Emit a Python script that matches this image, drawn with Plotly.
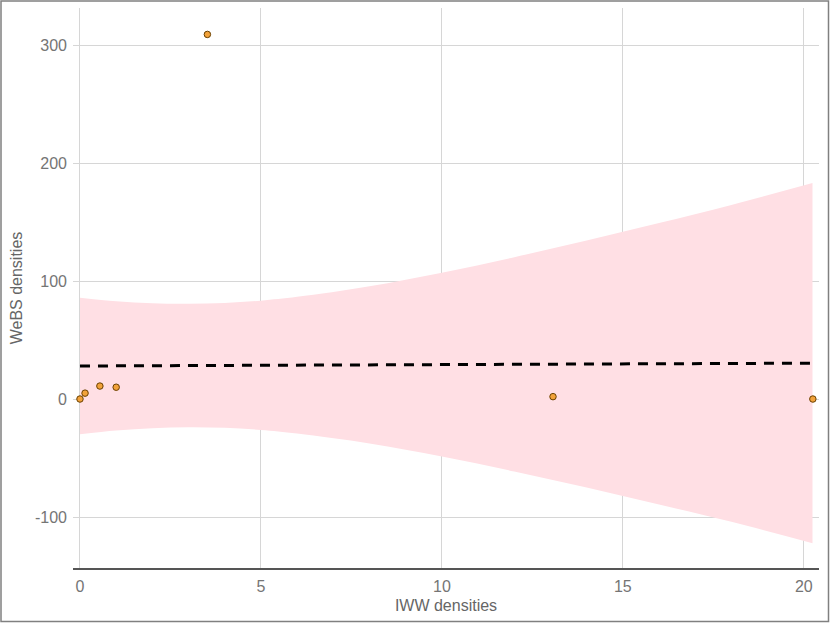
import plotly.graph_objects as go

# Observed points
iww = [0.0, 0.14, 0.55, 1.0, 3.52, 13.07, 20.25]
webs = [0.0, 5.0, 11.0, 10.0, 309.0, 2.0, 0.0]

# Fitted line and confidence band
band_x = [0, 1, 2, 3, 4, 5, 6, 8, 10, 12, 14, 16, 18, 20.24]
fit_y = [28.0, 28.1, 28.2, 28.4, 28.5, 28.6, 28.7, 29.0, 29.2, 29.4, 29.7, 29.9, 30.2, 30.4]
upper = [85.9, 82.9, 81.1, 80.7, 81.4, 83.4, 86.6, 95.6, 107.1, 120.2, 134.4, 149.2, 164.5, 183.0]
lower = [-29.9, -26.7, -24.7, -23.9, -24.4, -26.2, -29.2, -37.6, -48.7, -61.4, -75.0, -89.4, -104.1, -122.2]

x_ticks = [0, 5, 10, 15, 20]
x_labels = ["0", "5", "10", "15", "20"]
y_ticks = [-100, 0, 100, 200, 300]
y_labels = ["-100", "0", "100", "200", "300"]

W, H = 830, 623
L, R, T, B = 73, 11, 8, 55
pw, ph = W - L - R, H - T - B

fig = go.Figure()
fig.add_trace(go.Scatter(x=band_x, y=upper, mode="lines", line=dict(width=0, shape="spline"),
                         hoverinfo="skip", showlegend=False))
fig.add_trace(go.Scatter(x=band_x, y=lower, mode="lines", line=dict(width=0, shape="spline"),
                         fill="tonexty", fillcolor="#FFDFE4", hoverinfo="skip", showlegend=False))
fig.add_trace(go.Scatter(x=band_x, y=fit_y, mode="lines",
                         line=dict(color="black", width=3, dash="10px,8px"), showlegend=False))
fig.add_trace(go.Scatter(x=iww, y=webs, mode="markers",
                         marker=dict(size=6.5, color="#F2A23A", line=dict(color="#6a4000", width=1)),
                         showlegend=False))

def px_x(p):
    return (p - L) / pw

def px_y(p):
    return (H - B - p) / ph

fig.add_shape(type="rect", xref="paper", yref="paper",
              x0=px_x(1), x1=px_x(828.5), y0=px_y(621.5), y1=px_y(1),
              line=dict(color="#808080", width=1.5), fillcolor="rgba(0,0,0,0)", layer="above")

font_fam = "Liberation Sans, Arial, sans-serif"
fig.update_layout(
    width=W, height=H,
    margin=dict(l=L, r=R, t=T, b=B),
    paper_bgcolor="white", plot_bgcolor="white",
    font=dict(family=font_fam, size=16, color="#757575"),
    xaxis=dict(range=[-0.193, 20.42], tickvals=x_ticks, ticktext=x_labels, showgrid=True,
               gridcolor="#d6d6d6", gridwidth=1.4, zeroline=False, showline=True,
               linecolor="#555555", linewidth=2, ticks="", ticklabelstandoff=3,
               title=dict(text="IWW densities", font=dict(size=16, color="#666666"), standoff=6)),
    yaxis=dict(range=[-143.2, 331.4], tickvals=y_ticks, ticktext=y_labels, showgrid=True,
               gridcolor="#d6d6d6", gridwidth=1.4, zeroline=False, showline=False, ticks="",
               ticklabelstandoff=5,
               title=dict(text="WeBS densities", font=dict(size=16, color="#666666"), standoff=8)),
)

fig.write_html("out.html")
